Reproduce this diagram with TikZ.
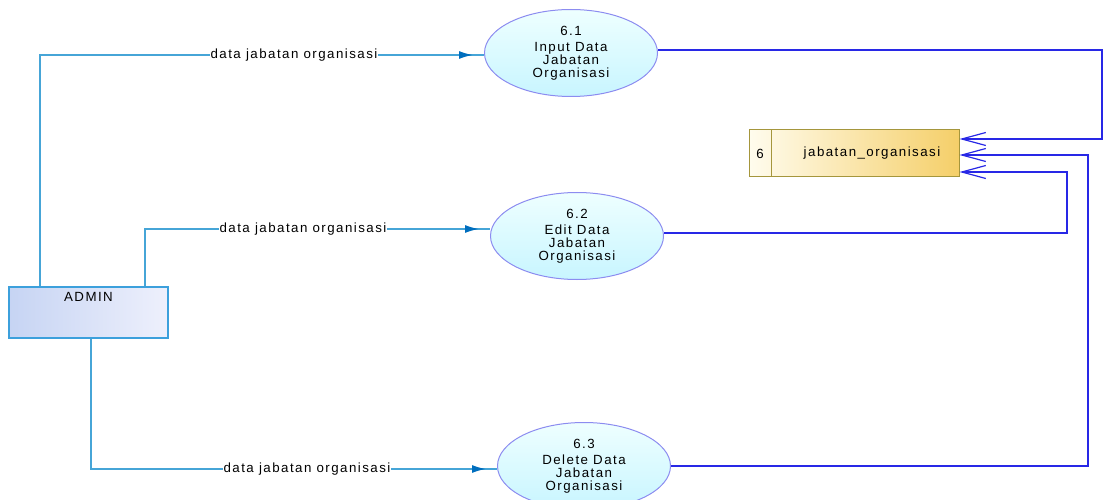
\documentclass[tikz,border=0pt]{standalone}
\usepackage{fontspec}
\setmainfont{Liberation Sans}
\newfontfamily\dfdfont[LetterSpace=11]{Liberation Sans}
\usetikzlibrary{shapes.geometric,arrows.meta,calc,decorations.markings}

\definecolor{flowin}{RGB}{70,165,215}
\definecolor{flowhead}{RGB}{0,110,190}
\definecolor{flowout}{RGB}{40,40,230}
\definecolor{procborder}{RGB}{140,140,240}
\definecolor{proctop}{RGB}{238,255,255}
\definecolor{procbot}{RGB}{200,245,255}
\definecolor{storeleft}{RGB}{255,252,238}
\definecolor{storeright}{RGB}{245,207,105}
\definecolor{storeborder}{RGB}{165,150,60}
\definecolor{entleft}{RGB}{198,212,243}
\definecolor{entright}{RGB}{238,240,252}
\definecolor{entborder}{RGB}{60,160,220}

\tikzset{
  dfdtext/.style={font=\dfdfont\fontsize{13.3}{13}\selectfont, text=black},
  process/.style={ellipse, draw=procborder, line width=1pt,
    top color=proctop, bottom color=procbot,
    minimum width=173, minimum height=87, inner sep=0pt,
    align=center, dfdtext},
  datastore/.style={rectangle, draw=storeborder, line width=1pt,
    left color=storeleft, right color=storeright,
    minimum width=210, minimum height=47, inner sep=0pt},
  entity/.style={rectangle, draw=entborder, line width=1.5pt,
    left color=entleft, right color=entright,
    minimum width=159, minimum height=51, inner sep=0pt},
  inflow/.style={draw=flowin, line width=1.6pt,
    decoration={markings, mark=at position -11pt with
      {\arrow[flowhead]{Latex[length=14pt,width=8pt]}}},
    postaction={decorate}},
  outflow/.style={draw=flowout, line width=1.3pt,
    -{Straight Barb[length=24pt,width=13pt,line width=1.2pt]}},
  flowlabel/.style={fill=white, inner xsep=1pt, inner ysep=1pt, dfdtext}
}

\begin{document}
\begin{tikzpicture}[x=1pt,y=-1pt]
\useasboundingbox (0,0) rectangle (1104,500);

% processes
\node[process] (p1) at (571,53)
  {6.1\\[3pt]Input Data\\Jabatan\\Organisasi};
\node[process] (p2) at (577,236)
  {6.2\\[3pt]Edit Data\\Jabatan\\Organisasi};
\node[process] (p3) at (584,466)
  {6.3\\[3pt]Delete Data\\Jabatan\\Organisasi};

% data store
\node[datastore] (store) at (854,153.5) {};
\draw[storeborder, line width=1pt] ($(store.north west)+(23,0)$) -- ($(store.south west)+(23,0)$);
\node[dfdtext] (storeno) at (760,153.5) {6};
\node[dfdtext] (storename) at (872,153.5) {jabatan\_organisasi};

% external entity
\node[entity] (admin) at (88.5,312.5) {};
\node[dfdtext, anchor=north] (adminname) at ($(admin.north)+(0,3)$) {ADMIN};

% inputs from the entity
\coordinate (a1) at ($(admin.north west)+(32,0)$);
\coordinate (a2) at ($(admin.north west)+(137,0)$);
\coordinate (a3) at ($(admin.south west)+(83,0)$);
\draw[inflow] (a1) |- ($(p1.west)+(0,2)$);
\draw[inflow] (a2) |- ($(p2.west)+(0,-7)$);
\draw[inflow] (a3) |- ($(p3.west)+(0,3)$);
\node[flowlabel] (l1) at (294,55) {data jabatan organisasi};
\node[flowlabel] (l2) at (303,229) {data jabatan organisasi};
\node[flowlabel] (l3) at (307,469) {data jabatan organisasi};

% outputs to the data store
\coordinate (o1) at (1102,139);
\coordinate (o2) at (1067,172);
\coordinate (o3) at (1088,155);
\draw[outflow] ($(p1.east)+(0,-3)$) -| (o1) -- (store.east |- o1);
\draw[outflow] ($(p2.east)+(0,-3)$) -| (o2) -- (store.east |- o2);
\draw[outflow] (p3.east) -| (o3) -- (store.east |- o3);
\end{tikzpicture}
\end{document}
